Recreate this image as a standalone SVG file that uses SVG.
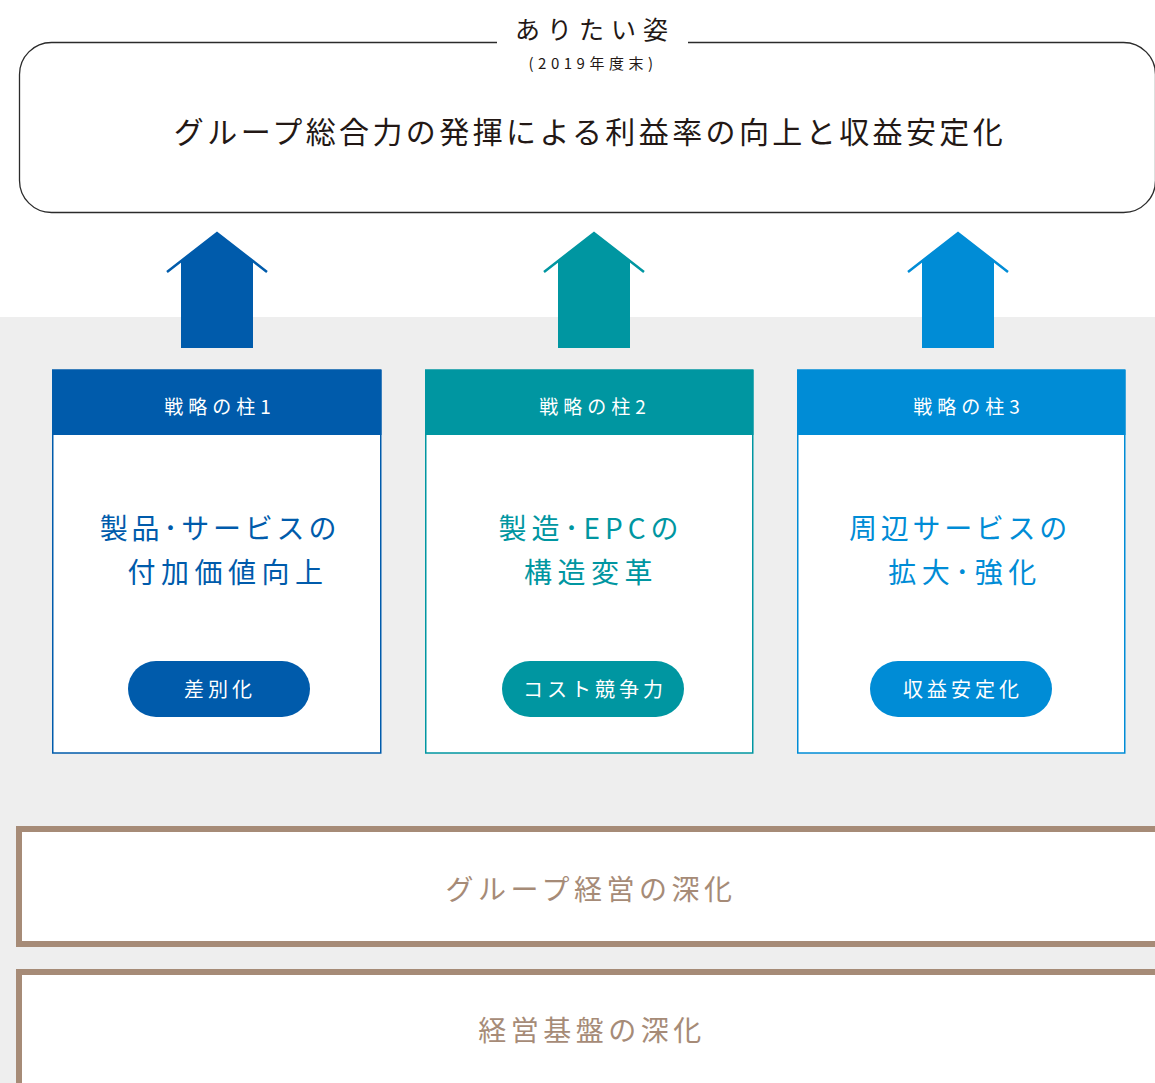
<svg xmlns="http://www.w3.org/2000/svg" width="1155" height="1083" viewBox="0 0 1155 1083">
<style>
text{font-family:"Noto Sans CJK JP","Noto Sans",sans-serif;dominant-baseline:central}
.c1{fill:#005bab}.c2{fill:#0096a1}.c3{fill:#008cd6}
.s1{stroke:#005bab}.s2{stroke:#0096a1}.s3{stroke:#008cd6}
.hd{fill:#fff;font-size:19px;letter-spacing:5px;text-anchor:middle}
.mt{font-size:28px;letter-spacing:5.5px;text-anchor:middle}
.pl{fill:#fff;font-size:20px;letter-spacing:4px;text-anchor:middle}
.box{fill:#fff;stroke-width:1.5}
.base{fill:#fff;stroke:#a68b77;stroke-width:6}
.bt{fill:#a68b77;font-size:28px;letter-spacing:4.5px;text-anchor:middle}
.wing{fill:none;stroke-width:2.5;stroke-linejoin:miter}
</style>
<rect x="0" y="317" width="1155" height="766" fill="#eeeeee"/>

<g id="goal">
<path d="M497,42.5 H51.5 A32,32 0 0 0 19.5,74.5 V180.5 A32,32 0 0 0 51.5,212.5 H1123.5 A32,32 0 0 0 1155.5,180.5 V74.5 A32,32 0 0 0 1123.5,42.5 H688" fill="#fff" stroke="#2b2b2b" stroke-width="1.3"/>
<text x="595" y="28" font-size="25" letter-spacing="7" text-anchor="middle" fill="#231815">ありたい姿</text>
<text x="593" y="62" font-size="15" letter-spacing="4.5" text-anchor="middle" fill="#231815">(2019年度末)</text>
<text x="590" y="129.5" font-size="30" letter-spacing="3.4" text-anchor="middle" fill="#231815">グループ総合力の発揮による利益率の向上と収益安定化</text>
</g>

<g id="connectors">
<polygon class="c1" points="217,233 253,260.5 253,348 181,348 181,260.5"/>
<polyline class="wing s1" points="167,272 217,233 267,272"/>
<polygon class="c2" points="594,233 630,260.5 630,348 558,348 558,260.5"/>
<polyline class="wing s2" points="544,272 594,233 644,272"/>
<polygon class="c3" points="958,233 994,260.5 994,348 922,348 922,260.5"/>
<polyline class="wing s3" points="908,272 958,233 1008,272"/>
</g>

<g id="pillar1">
<rect class="box s1" x="52.75" y="370" width="328" height="383"/>
<rect class="c1" x="52" y="370" width="329.5" height="65"/>
<text class="hd" x="220" y="405.5">戦略の柱1</text>
<text class="mt c1" x="220" y="527" style="letter-spacing:3.8px">製品･サービスの</text>
<text class="mt c1" x="228" y="570.5">付加価値向上</text>
<rect class="c1" x="128" y="661" width="182" height="56" rx="28"/>
<text class="pl" x="220" y="688.5">差別化</text>
</g>

<g id="pillar2">
<rect class="box s2" x="425.75" y="370" width="327" height="383"/>
<rect class="c2" x="425" y="370" width="328.5" height="65"/>
<text class="hd" x="595" y="405.5">戦略の柱2</text>
<text class="mt c2" x="591" y="527" style="letter-spacing:5px">製造･EPCの</text>
<text class="mt c2" x="591" y="570.5">構造変革</text>
<rect class="c2" x="502" y="661" width="182" height="56" rx="28"/>
<text class="pl" x="595" y="688.5">コスト競争力</text>
</g>

<g id="pillar3">
<rect class="box s3" x="797.75" y="370" width="327" height="383"/>
<rect class="c3" x="797" y="370" width="328.5" height="65"/>
<text class="hd" x="969" y="405.5">戦略の柱3</text>
<text class="mt c3" x="960" y="527" style="letter-spacing:3.7px">周辺サービスの</text>
<text class="mt c3" x="965" y="570.5">拡大･強化</text>
<rect class="c3" x="870" y="661" width="182" height="56" rx="28"/>
<text class="pl" x="963" y="688.5">収益安定化</text>
</g>

<g id="base1">
<rect class="base" x="19" y="829" width="1160" height="115"/>
<text class="bt" x="591" y="888">グループ経営の深化</text>
</g>

<g id="base2">
<rect class="base" x="19" y="972" width="1160" height="140"/>
<text class="bt" x="592" y="1029">経営基盤の深化</text>
</g>
</svg>
